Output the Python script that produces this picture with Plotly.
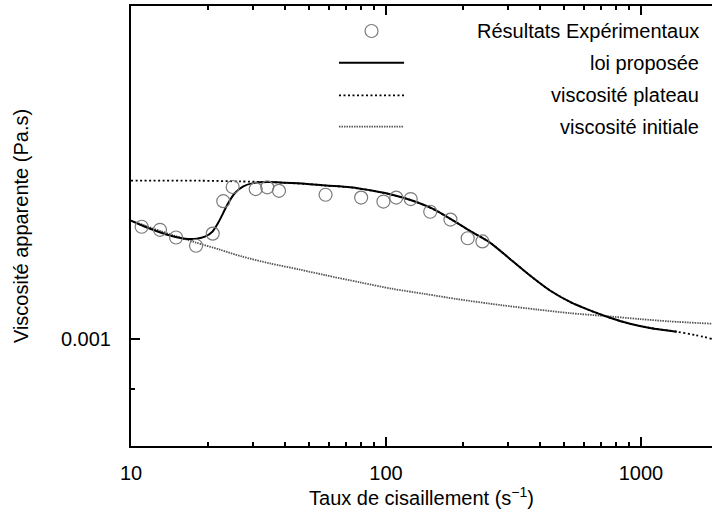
import plotly.graph_objects as go

# --- data ---
exp_shear = [11.01, 12.99, 15.02, 17.99, 20.92, 23.01, 25.05, 30.83, 34.23, 38.05,
             57.95, 79.9, 97.7, 109.7, 125.0, 149.1, 179.0, 209.1, 238.9]
exp_visc = [0.001263, 0.001255, 0.001235, 0.001214, 0.001245, 0.001332, 0.001372,
            0.001366, 0.001371, 0.001361, 0.001350, 0.001342, 0.001331, 0.001342,
            0.001338, 0.001303, 0.001282, 0.001233, 0.001225]

law_shear = [10.0, 11.35, 12.80, 14.44, 16.28, 18.10, 19.51, 20.84, 22.00, 23.01,
             24.07, 25.57, 27.56, 30.17, 34.54, 40.18, 48.12, 58.17, 72.24, 88.93,
             108.5, 126.5, 151.5, 180.9, 213.5, 255.7, 306.4, 367.1, 439.7, 526.9,
             631.0, 755.6, 905.4, 1084.7, 1380.4]
law_visc = [0.001279, 0.001263, 0.001250, 0.001239, 0.001232, 0.001232, 0.001237,
            0.001250, 0.001274, 0.001300, 0.001327, 0.001355, 0.001374, 0.001383,
            0.001386, 0.001384, 0.001381, 0.001376, 0.001371, 0.001361, 0.001348,
            0.001334, 0.001312, 0.001282, 0.001252, 0.001222, 0.001181, 0.001141,
            0.001106, 0.001080, 0.001061, 0.001045, 0.001032, 0.001023, 0.001015]

plateau_shear = [10.0, 18.65, 26.76, 34.54, 40.18, 48.12, 58.17, 72.24, 88.93, 108.5,
                 126.5, 151.5, 180.9, 213.5, 255.7, 306.4, 367.1, 439.7, 526.9, 631.0,
                 755.6, 905.4, 1084.7, 1380.4, 1628.6, 1898.0]
plateau_visc = [0.001390, 0.001390, 0.001388, 0.001386, 0.001384, 0.001381, 0.001376,
                0.001371, 0.001361, 0.001348, 0.001334, 0.001312, 0.001282, 0.001252,
                0.001222, 0.001181, 0.001141, 0.001106, 0.001080, 0.001061, 0.001045,
                0.001032, 0.001023, 0.001015, 0.001008, 0.001000]

initial_shear = [10.0, 11.35, 12.99, 14.88, 17.99, 22.34, 27.25, 35.08, 45.99, 57.65,
                 79.07, 105.6, 142.2, 191.6, 280.0, 391.1, 526.9, 709.6, 991.1, 1299.4, 1898.0]
initial_visc = [0.001279, 0.001266, 0.001252, 0.001239, 0.001222, 0.001204, 0.001187,
                0.001170, 0.001155, 0.001142, 0.001125, 0.001110, 0.001098, 0.001086,
                0.001073, 0.001063, 0.001055, 0.001049, 0.001042, 0.001037, 0.001032]

x_tick_vals = [10, 100, 1000]
x_tick_text = ["10", "100", "1000"]
y_tick_vals = [0.001]
y_tick_text = ["0.001"]

legend_names = ["Résultats Expérimentaux", "loi proposée", "viscosité plateau", "viscosité initiale"]

FONT = "Liberation Sans, Arial, sans-serif"
PLATEAU_DASH = "2px,2.5px"
INITIAL_DASH = "1.5px,1px"
INITIAL_COLOR = "#555555"
MARKER_COLOR = "#7a7a7a"

fig = go.Figure()
fig.add_trace(go.Scatter(x=plateau_shear, y=plateau_visc, mode="lines",
                         line=dict(color="black", width=1.8, dash=PLATEAU_DASH, shape="spline", smoothing=0.8),
                         name=legend_names[2], showlegend=False))
fig.add_trace(go.Scatter(x=initial_shear, y=initial_visc, mode="lines",
                         line=dict(color=INITIAL_COLOR, width=1.8, dash=INITIAL_DASH, shape="spline", smoothing=0.8),
                         name=legend_names[3], showlegend=False))
fig.add_trace(go.Scatter(x=law_shear, y=law_visc, mode="lines",
                         line=dict(color="black", width=2, shape="spline", smoothing=0.8),
                         name=legend_names[1], showlegend=False))
fig.add_trace(go.Scatter(x=exp_shear, y=exp_visc, mode="markers",
                         marker=dict(symbol="circle-open", size=13, color=MARKER_COLOR, line=dict(width=1.2)),
                         name=legend_names[0], showlegend=False))

# manual gnuplot-style key (text right-aligned, sample on its left)
key_rows_y = [0.9432, 0.8711, 0.797, 0.7257]
sample_x0, sample_x1 = 0.358, 0.470
text_x = 0.981
fig.add_shape(type="circle", xref="paper", yref="paper", xsizemode="pixel", ysizemode="pixel",
              xanchor=(sample_x0 + sample_x1) / 2, yanchor=key_rows_y[0],
              x0=-6.5, x1=6.5, y0=-6.5, y1=6.5, line=dict(color=MARKER_COLOR, width=1.2))
fig.add_shape(type="line", xref="paper", yref="paper", x0=sample_x0, x1=sample_x1,
              y0=key_rows_y[1], y1=key_rows_y[1], line=dict(color="black", width=2))
fig.add_shape(type="line", xref="paper", yref="paper", x0=sample_x0, x1=sample_x1,
              y0=key_rows_y[2], y1=key_rows_y[2], line=dict(color="black", width=1.8, dash=PLATEAU_DASH))
fig.add_shape(type="line", xref="paper", yref="paper", x0=sample_x0, x1=sample_x1,
              y0=key_rows_y[3], y1=key_rows_y[3], line=dict(color=INITIAL_COLOR, width=1.8, dash=INITIAL_DASH))
for name, yy in zip(legend_names, key_rows_y):
    fig.add_annotation(text=name, xref="paper", yref="paper", x=text_x, y=yy,
                       xanchor="right", yanchor="middle", showarrow=False,
                       font=dict(family=FONT, size=20, color="black"))

fig.update_layout(
    width=712, height=513,
    margin=dict(l=131, r=0, t=6, b=67),
    paper_bgcolor="white", plot_bgcolor="white",
    font=dict(family=FONT, size=20, color="black"),
    showlegend=False,
)
fig.update_xaxes(
    type="log", range=[1, 3.2785],
    tickvals=x_tick_vals, ticktext=x_tick_text,
    ticks="inside", ticklen=9, tickwidth=1.5, tickcolor="black",
    minor=dict(ticks="inside", ticklen=4, tickwidth=1.5, tickcolor="black",
               tickvals=[m * d for d in (10, 100) for m in range(2, 10)]),
    showline=True, linecolor="black", linewidth=2, mirror="ticks",
    showgrid=False, zeroline=False,
    ticklabelstandoff=8,
    title=dict(text="Taux de cisaillement (s<sup>−1</sup>)", standoff=6,
               font=dict(family=FONT, size=20)),
)
fig.update_yaxes(
    type="log", range=[-3.09691, -2.69897],
    tickvals=y_tick_vals, ticktext=y_tick_text,
    ticks="inside", ticklen=9, tickwidth=1.5, tickcolor="black",
    minor=dict(ticks="inside", ticklen=4, tickwidth=1.5, tickcolor="black",
               tickvals=[0.0008, 0.0009, 0.002]),
    showline=True, linecolor="black", linewidth=2, mirror=False,
    showgrid=False, zeroline=False,
    ticklabelstandoff=14,
    title=dict(text="Viscosité apparente (Pa.s)", standoff=27,
               font=dict(family=FONT, size=20)),
)

fig.write_html("out.html", config={"displayModeBar": False},
               post_script="document.body.style.margin='0';document.body.style.padding='0';")
